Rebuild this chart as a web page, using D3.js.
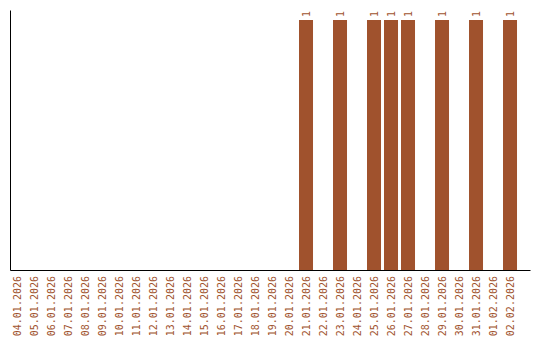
<!DOCTYPE html>
<html>
<head>
<meta charset="utf-8">
<script src="https://cdn.jsdelivr.net/npm/d3@7"></script>
<style>
  body { margin: 0; background: #fff; }
  text { font-family: "DejaVu Sans Mono", monospace; font-size: 10px; fill: #a0522d; }
</style>
</head>
<body>
<svg id="chart" width="540" height="340"></svg>
<script>
// --- данные ---
const days = ['04.01.2026','05.01.2026','06.01.2026','07.01.2026','08.01.2026','09.01.2026',
  '10.01.2026','11.01.2026','12.01.2026','13.01.2026','14.01.2026','15.01.2026','16.01.2026',
  '17.01.2026','18.01.2026','19.01.2026','20.01.2026','21.01.2026','22.01.2026','23.01.2026',
  '24.01.2026','25.01.2026','26.01.2026','27.01.2026','28.01.2026','29.01.2026','30.01.2026',
  '31.01.2026','01.02.2026','02.02.2026'];
const counts = [0,0,0,0,0,0,0,0,0,0,0,0,0,0,0,0,0,1,0,1,0,1,1,1,0,1,0,1,0,1];

const color = '#a0522d';
const svg = d3.select('#chart');

const x = d3.scaleBand().domain(days).range([10, 530])
  .paddingInner(3 / 17).paddingOuter(0.382).align(0);
const y = d3.scaleLinear().domain([0, d3.max(counts) * 1.04]).range([270, 10]);

// оси
const xa = svg.append('g').attr('transform', 'translate(0,270)')
  .call(d3.axisBottom(x).tickSize(0).tickSizeOuter(0));
xa.select('.domain').attr('stroke', '#000');
xa.selectAll('text')
  .attr('transform', 'rotate(-90)')
  .attr('text-anchor', 'end')
  .attr('x', -6).attr('y', 0).attr('dy', '0.35em')
  .attr('fill', color);

const ya = svg.append('g').attr('transform', 'translate(10,0)')
  .call(d3.axisLeft(y).tickValues([]).tickSizeOuter(0));
ya.select('.domain').attr('stroke', '#000');

// столбцы
const rows = days.map((d, i) => ({ day: d, v: counts[i] })).filter(r => r.v > 0);

svg.append('g').selectAll('rect').data(rows).join('rect')
  .attr('x', d => x(d.day))
  .attr('y', d => y(d.v))
  .attr('width', x.bandwidth())
  .attr('height', d => y(0) - y(d.v))
  .attr('fill', color);

svg.append('g').selectAll('text').data(rows).join('text')
  .attr('transform', d => `translate(${x(d.day) + x.bandwidth() / 2},${y(d.v) - 3}) rotate(-90)`)
  .attr('dy', '0.35em')
  .text(d => d.v);
</script>
</body>
</html>
